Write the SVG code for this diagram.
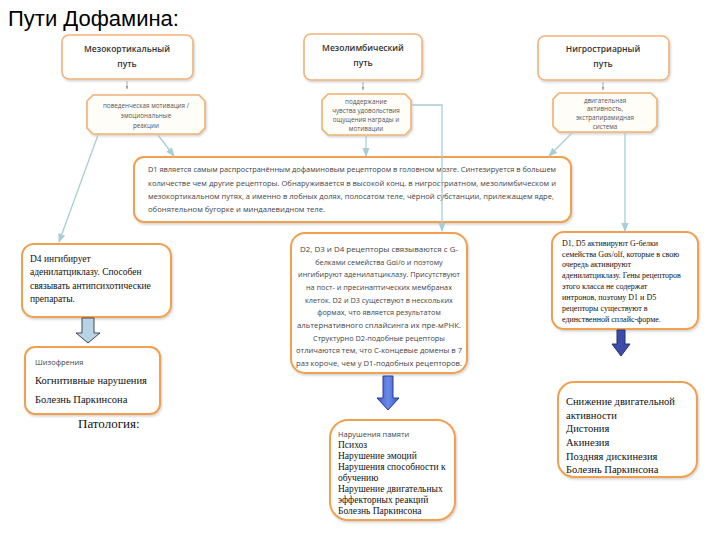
<svg xmlns="http://www.w3.org/2000/svg" width="720" height="540" viewBox="0 0 720 540">
<defs>
<style>
.title{font-family:"Liberation Sans",Arial,sans-serif;font-size:22px;fill:#000}
.box{fill:#fff;stroke:#f0a050;stroke-width:2}
.tbox{fill:#fff;stroke:#f2b27a;stroke-width:1.6}
.hex{fill:#fffdf8;stroke:#f0b070;stroke-width:1.6}
.th{font-family:"Open Sans","Liberation Sans",sans-serif;font-size:8.5px;font-weight:600;fill:#333;text-anchor:middle}
.st{font-family:"Open Sans","Liberation Sans",sans-serif;font-size:6.3px;fill:#555;text-anchor:middle}
.s{font-family:"Open Sans","Liberation Sans",sans-serif;font-size:7.5px;fill:#444}
.sc{font-family:"Open Sans","Liberation Sans",sans-serif;font-size:7.3px;fill:#444;text-anchor:middle}
.sv{font-family:"Liberation Serif","Times New Roman",serif;fill:#111}
.conn{fill:none;stroke:#a8ccd8;stroke-width:1.3}
.tiny{fill:none;stroke:#999;stroke-width:0.8}
</style>
<marker id="ah" viewBox="0 0 10 10" refX="9" refY="5" markerWidth="7" markerHeight="7" orient="auto">
<path d="M0,1 L10,5 L0,9 Z" fill="#a8ccd8"/>
</marker>
<marker id="ahs" viewBox="0 0 10 10" refX="9" refY="5" markerWidth="4" markerHeight="4" orient="auto">
<path d="M0,1 L10,5 L0,9 Z" fill="#999"/>
</marker>
<linearGradient id="gmid" x1="0" y1="0" x2="1" y2="0">
<stop offset="0" stop-color="#3a5cc8"/><stop offset="0.5" stop-color="#6a8ae8"/><stop offset="1" stop-color="#3a5cc8"/>
</linearGradient>
<filter id="sh" x="-10%" y="-10%" width="120%" height="130%">
<feDropShadow dx="1" dy="1.5" stdDeviation="1.2" flood-color="#000" flood-opacity="0.18"/>
</filter>
</defs>
<rect width="720" height="540" fill="#fff"/>
<text class="title" x="8" y="26">Пути Дофамина:</text>

<g id="meso-cort">
<rect class="tbox" x="62" y="35" width="131" height="44" rx="7" filter="url(#sh)"/>
<text class="th" x="127" y="52">Мезокортикальный</text>
<text class="th" x="127" y="67">путь</text>
</g>
<g id="meso-limb">
<rect class="tbox" x="304" y="34" width="118" height="46" rx="7" filter="url(#sh)"/>
<text class="th" x="363" y="51">Мезолимбический</text>
<text class="th" x="363" y="66">путь</text>
</g>
<g id="nigro">
<rect class="tbox" x="538" y="36" width="131" height="44" rx="7" filter="url(#sh)"/>
<text class="th" x="603" y="52">Нигростриарный</text>
<text class="th" x="603" y="67">путь</text>
</g>

<g id="func-a">
<path class="hex" d="M93,95 H199 L205,101 V128 L199,134 H93 L87,128 V101 Z" filter="url(#sh)"/>
<text class="st" x="146" y="108">поведенческая мотивация /</text>
<text class="st" x="146" y="118">эмоциональные</text>
<text class="st" x="146" y="128">реакции</text>
</g>
<g id="func-b">
<path class="hex" d="M328,94 H405 L411,100 V129 L405,135 H328 L322,129 V100 Z" filter="url(#sh)"/>
<text class="st" x="366" y="104">поддержание</text>
<text class="st" x="366" y="113">чувства удовольствия</text>
<text class="st" x="366" y="122">ощущения награды и</text>
<text class="st" x="366" y="131">мотивации</text>
</g>
<g id="func-c">
<path class="hex" d="M559,93 H651 L657,99 V126 L651,132 H559 L553,126 V99 Z" filter="url(#sh)"/>
<text class="st" x="605" y="103">двигательная</text>
<text class="st" x="605" y="111">активность,</text>
<text class="st" x="605" y="120">экстрапирамидная</text>
<text class="st" x="605" y="129">система</text>
</g>

<g id="d1">
<rect class="box" x="134" y="157" width="437" height="65" rx="10" filter="url(#sh)"/>
<text class="s" x="148" y="172" textLength="408" lengthAdjust="spacingAndGlyphs">D1 является самым распространённым дофаминовым рецептором в головном мозге. Синтезируется в большем</text>
<text class="s" x="148" y="186" textLength="408" lengthAdjust="spacingAndGlyphs">количестве чем другие рецепторы. Обнаруживается в высокой конц. в нигростриатном, мезолимбическом и</text>
<text class="s" x="148" y="199" textLength="406" lengthAdjust="spacingAndGlyphs">мезокортикальном путях, а именно в лобных долях, полосатом теле, чёрной субстанции, прилежащем ядре,</text>
<text class="s" x="148" y="212" textLength="177" lengthAdjust="spacingAndGlyphs">обонятельном бугорке и миндалевидном теле.</text>
</g>

<g id="d4">
<rect class="box" x="22" y="244" width="149" height="73" rx="12" filter="url(#sh)"/>
<text class="sv" font-size="9.5" x="30" y="262">D4 ингибирует</text>
<text class="sv" font-size="9.5" x="30" y="275">аденилатциклазу. Способен</text>
<text class="sv" font-size="9.5" x="30" y="289">связывать антипсихотические</text>
<text class="sv" font-size="9.5" x="30" y="302">препараты.</text>
</g>

<g id="d2">
<rect class="box" x="291" y="233" width="176" height="140" rx="14" filter="url(#sh)"/>
<text class="sc" x="379" y="252" textLength="158" lengthAdjust="spacingAndGlyphs">D2, D3 и D4 рецепторы связываются с G-</text>
<text class="sc" x="379" y="265">белками семейства Gαi/o и поэтому</text>
<text class="sc" x="379" y="277" textLength="162" lengthAdjust="spacingAndGlyphs">ингибируют аденилатциклазу. Присутствуют</text>
<text class="sc" x="379" y="290">на пост- и пресинаптических мембранах</text>
<text class="sc" x="379" y="303">клеток. D2 и D3 существуют в нескольких</text>
<text class="sc" x="379" y="315">формах, что является результатом</text>
<text class="sc" x="379" y="328" textLength="164" lengthAdjust="spacingAndGlyphs">альтернативного сплайсинга их пре-мРНК.</text>
<text class="sc" x="379" y="341">Структурно D2-подобные рецепторы</text>
<text class="sc" x="379" y="353" textLength="166" lengthAdjust="spacingAndGlyphs">отличаются тем, что C-концевые домены в 7</text>
<text class="sc" x="379" y="366" textLength="166" lengthAdjust="spacingAndGlyphs">раз короче, чем у D1-подобных рецепторов.</text>
</g>

<g id="d1d5">
<rect class="box" x="552" y="232" width="146" height="97" rx="12" filter="url(#sh)"/>
<text class="sv" font-size="8" x="562" y="246">D1, D5 активируют G-белки</text>
<text class="sv" font-size="8" x="562" y="257">семейства Gαs/olf, которые в свою</text>
<text class="sv" font-size="8" x="562" y="267">очередь активируют</text>
<text class="sv" font-size="8" x="562" y="278">аденилатциклазу. Гены рецепторов</text>
<text class="sv" font-size="8" x="562" y="289">этого класса не содержат</text>
<text class="sv" font-size="8" x="562" y="300">интронов, поэтому D1 и D5</text>
<text class="sv" font-size="8" x="562" y="311">рецепторы существуют в</text>
<text class="sv" font-size="8" x="562" y="322">единственной сплайс-форме.</text>
</g>

<g id="path-left">
<rect class="box" x="25" y="347" width="135" height="67" rx="10" filter="url(#sh)"/>
<text class="s" font-size="8" x="35" y="365" fill="#555">Шизофрения</text>
<text class="sv" font-size="10.5" x="35" y="384">Когнитивные нарушения</text>
<text class="sv" font-size="10.5" x="35" y="403">Болезнь Паркинсона</text>
</g>
<text class="sv" font-size="13" x="78" y="428">Патология:</text>

<g id="path-mid">
<rect class="box" x="330" y="420" width="125" height="100" rx="18" filter="url(#sh)"/>
<text class="s" font-size="7.5" x="338" y="437" fill="#555">Нарушения памяти</text>
<text class="sv" font-size="9.5" x="338" y="448">Психоз</text>
<text class="sv" font-size="9.5" x="338" y="459">Нарушение эмоций</text>
<text class="sv" font-size="9.5" x="338" y="470">Нарушения способности к</text>
<text class="sv" font-size="9.5" x="338" y="481">обучению</text>
<text class="sv" font-size="9.5" x="338" y="492">Нарушение двигательных</text>
<text class="sv" font-size="9.5" x="338" y="503">эффекторных реакций</text>
<text class="sv" font-size="9.5" x="338" y="514">Болезнь Паркинсона</text>
</g>

<g id="path-right">
<rect class="box" x="558" y="382" width="139" height="95" rx="16" filter="url(#sh)"/>
<text class="sv" font-size="10.5" x="566" y="405">Снижение двигательной</text>
<text class="sv" font-size="10.5" x="566" y="419">активности</text>
<text class="sv" font-size="10.5" x="566" y="432">Дистония</text>
<text class="sv" font-size="10.5" x="566" y="446">Акинезия</text>
<text class="sv" font-size="10.5" x="566" y="460">Поздняя дискинезия</text>
<text class="sv" font-size="10.5" x="566" y="473">Болезнь Паркинсона</text>
</g>

<g id="connectors">
<line class="tiny" x1="127" y1="81" x2="127" y2="89" marker-end="url(#ahs)"/>
<line class="tiny" x1="363" y1="82" x2="363" y2="90" marker-end="url(#ahs)"/>
<line class="tiny" x1="603" y1="82" x2="603" y2="90" marker-end="url(#ahs)"/>
<line class="conn" x1="98" y1="135" x2="59" y2="242" marker-end="url(#ah)"/>
<line class="conn" x1="158" y1="135" x2="174" y2="156" marker-end="url(#ah)"/>
<line class="conn" x1="366" y1="136" x2="366" y2="156" marker-end="url(#ah)"/>
<polyline class="conn" points="412,105 442,105 442,231" marker-end="url(#ah)"/>
<line class="conn" x1="572" y1="133" x2="549" y2="156" marker-end="url(#ah)"/>
<line class="conn" x1="625" y1="133" x2="625" y2="231" marker-end="url(#ah)"/>
<path d="M82,318 H94 V333 H100 L88,343 L76,333 H82 Z" fill="#b8d4e4" stroke="#445" stroke-width="1"/>
<path d="M383,376 H393 V398 H399 L388,410 L377,398 H383 Z" fill="url(#gmid)" stroke="#2a3a90" stroke-width="1"/>
<path d="M617,330 H625 V344 H630 L621,356 L612,344 H617 Z" fill="#3c4ca8" stroke="#23306f" stroke-width="1"/>
</g>
</svg>
